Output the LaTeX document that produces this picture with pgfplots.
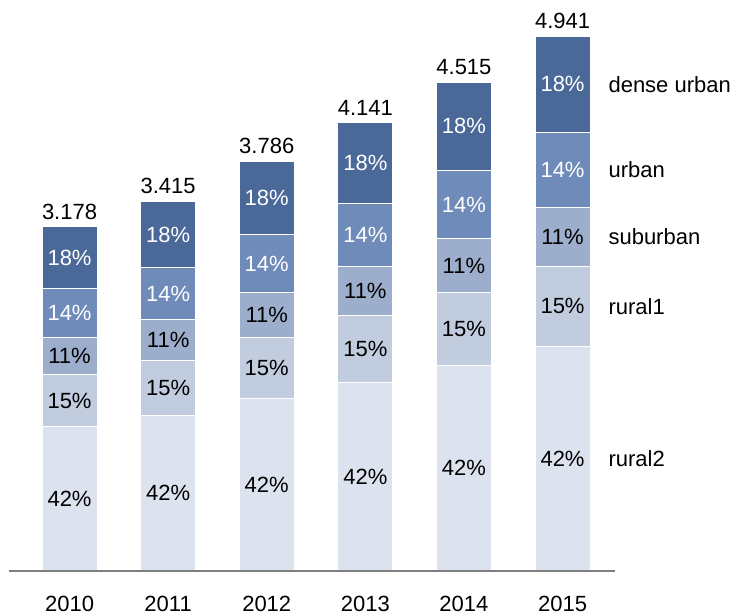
\documentclass[border=0pt]{standalone}
\usepackage{pgfplots}
\pgfplotsset{compat=1.18}
\usepackage{fontspec}
\setmainfont{Liberation Sans}
\definecolor{cR2}{HTML}{DCE2EE}
\definecolor{cR1}{HTML}{C2CCDF}
\definecolor{cSU}{HTML}{9DAECD}
\definecolor{cUR}{HTML}{6F8BBA}
\definecolor{cDU}{HTML}{4A6898}
\definecolor{axgray}{HTML}{7F7F7F}
\begin{document}
\fontsize{22bp}{26bp}\selectfont
\begin{tikzpicture}[every node/.style={font=\fontsize{22bp}{26bp}\selectfont}]
\begin{axis}[
  x=98.6bp, y=108.25bp,
  xmin=-0.614, xmax=5.532, ymin=0, ymax=5.2,
  ybar stacked, bar width=55bp,
  axis on top,
  axis x line*=bottom, axis y line=none,
  x axis line style={-, draw=axgray, line width=1.6bp},
  xtick={0,1,2,3,4,5},
  xticklabels={2010,2011,2012,2013,2014,2015},
  major tick length=0pt,
  ytick=\empty,
  x tick label style={font=\fontsize{22bp}{26bp}\selectfont, anchor=north, yshift=-18bp},
  every node near coord/.append style={font=\fontsize{22bp}{26bp}\selectfont},
  clip=false,
]
\addplot[fill=cR2, draw=white, line width=1bp, nodes near coords={42\%}] coordinates {(0,1.33476) (1,1.4343) (2,1.59012) (3,1.73922) (4,1.8963) (5,2.07522)};
\addplot[fill=cR1, draw=white, line width=1bp, nodes near coords={15\%}] coordinates {(0,0.4767) (1,0.51225) (2,0.5679) (3,0.62115) (4,0.67725) (5,0.74115)};
\addplot[fill=cSU, draw=white, line width=1bp, nodes near coords={11\%}] coordinates {(0,0.34958) (1,0.37565) (2,0.41646) (3,0.45551) (4,0.49665) (5,0.54351)};
\addplot[fill=cUR, draw=white, line width=1bp, nodes near coords={14\%}, every node near coord/.append style={text=white}] coordinates {(0,0.44492) (1,0.4781) (2,0.53004) (3,0.57974) (4,0.6321) (5,0.69174)};
\addplot[fill=cDU, draw=white, line width=1bp, nodes near coords={18\%}, every node near coord/.append style={text=white}] coordinates {(0,0.57204) (1,0.6147) (2,0.68148) (3,0.74538) (4,0.8127) (5,0.88938)};
\node[anchor=south] at (axis cs:0,3.178) {3.178};
\node[anchor=south] at (axis cs:1,3.415) {3.415};
\node[anchor=south] at (axis cs:2,3.786) {3.786};
\node[anchor=south] at (axis cs:3,4.141) {4.141};
\node[anchor=south] at (axis cs:4,4.515) {4.515};
\node[anchor=south] at (axis cs:5,4.941) {4.941};
\node[anchor=west] at (axis cs:5.39,1.0376) {rural2};
\node[anchor=west] at (axis cs:5.39,2.4458) {rural1};
\node[anchor=west] at (axis cs:5.39,3.0882) {suburban};
\node[anchor=west] at (axis cs:5.39,3.7058) {urban};
\node[anchor=west] at (axis cs:5.39,4.4963) {dense urban};
\end{axis}
\pgfresetboundingbox
\path[use as bounding box] (-9bp,-45bp) rectangle (723bp,571bp);
\end{tikzpicture}
\end{document}
